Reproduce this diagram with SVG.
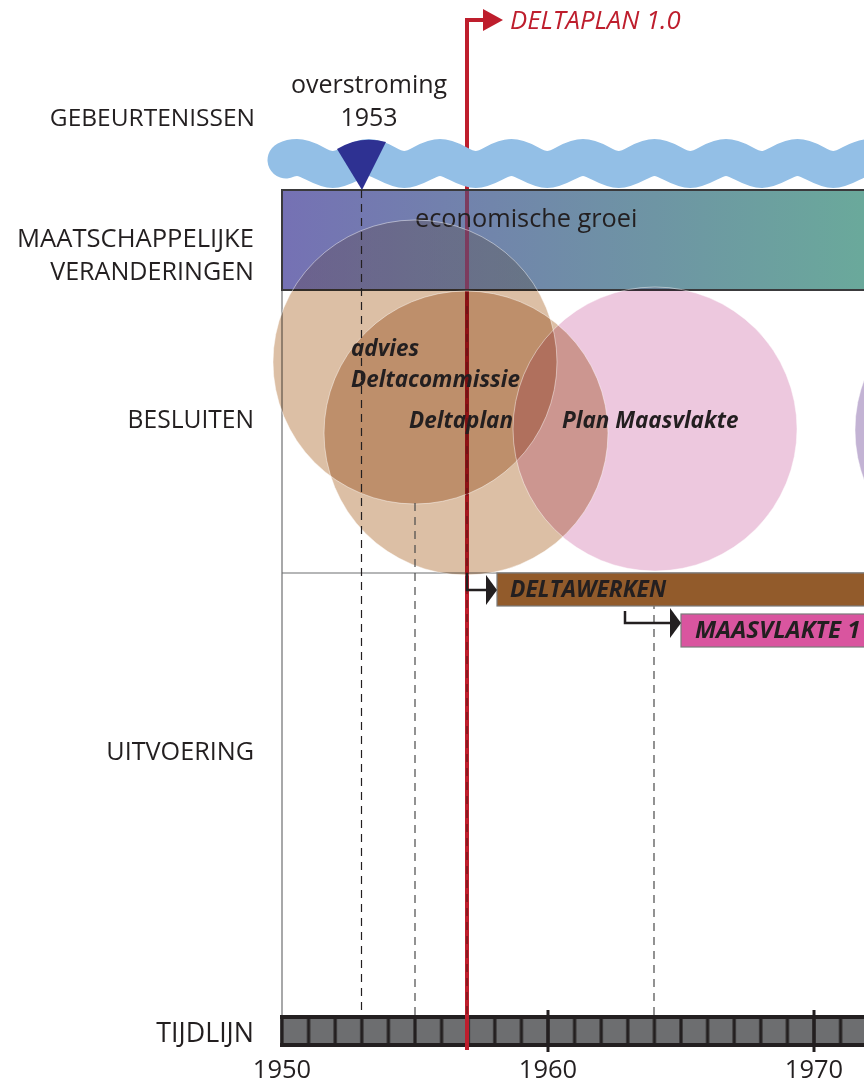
<svg xmlns="http://www.w3.org/2000/svg" width="864" height="1083" viewBox="0 0 864 1083">
<defs>
<linearGradient id="econ" x1="282" y1="0" x2="864" y2="0" gradientUnits="userSpaceOnUse">
<stop offset="0" stop-color="#7571b4"/>
<stop offset="1" stop-color="#6aa99b"/>
</linearGradient>
<pattern id="cells" x="282" y="0" width="26.6" height="1083" patternUnits="userSpaceOnUse">
<rect x="1.6" y="1019" width="23.4" height="24" fill="#6d6e70"/>
</pattern>
<marker id="ahk" viewBox="0 0 11 30" refX="0" refY="15" markerWidth="11" markerHeight="30" markerUnits="userSpaceOnUse" orient="auto">
<path d="M0,0 L11,15 L0,30 Z" fill="#231f20"/>
</marker>
<marker id="ahr" viewBox="0 0 20 22" refX="0" refY="11" markerWidth="20" markerHeight="22" markerUnits="userSpaceOnUse" orient="auto">
<path d="M0,0 L20,11 L0,22 Z" fill="#be1e2d"/>
</marker>
</defs>
<style>
.t{font-family:"Open Sans","Liberation Sans",sans-serif;font-size:25px;fill:#231f20}
.lane{text-anchor:end}
.mid{text-anchor:middle}
.bi{font-weight:bold;font-style:italic;font-size:22.5px}
.bb{font-weight:bold;font-style:italic;font-size:23px}
.circ{mix-blend-mode:multiply;stroke:none}
.ring{fill:none;stroke:#ffffff;stroke-opacity:.45;stroke-width:1}
.dash{stroke:#231f20;stroke-width:1.2;stroke-dasharray:8 6;fill:none}
.grid{stroke:#6d6e70;stroke-width:1.2;fill:none}
.bar{stroke:#7a7a7a;stroke-width:1.2}
</style>
<rect width="864" height="1083" fill="#ffffff"/>

<g id="lanes">
<text class="t lane" x="255" y="126" style="font-size:24.5px">GEBEURTENISSEN</text>
<text class="t lane" x="254" y="247" style="font-size:25.6px">MAATSCHAPPELIJKE</text>
<text class="t lane" x="254" y="280" style="font-size:25.1px">VERANDERINGEN</text>
<text class="t lane" x="254" y="428" style="font-size:24.6px">BESLUITEN</text>
<text class="t lane" x="254" y="760" style="font-size:25.2px">UITVOERING</text>
<text class="t lane" x="254" y="1042" style="font-size:26.8px">TIJDLIJN</text>
</g>

<g id="grid">
<line class="grid" x1="282" y1="290" x2="282" y2="1015"/>
<line class="grid" x1="282" y1="573" x2="864" y2="573"/>
</g>

<g id="deltaplan-line">
<line x1="467" y1="1050" x2="467" y2="20" stroke="#be1e2d" stroke-width="4"/>
<path d="M465,20 H483" stroke="#be1e2d" stroke-width="4" fill="none" marker-end="url(#ahr)"/>
<text class="t" x="510" y="29" style="fill:#be1e2d;font-style:italic;font-size:25.7px">DELTAPLAN 1.0</text>
</g>

<g id="gebeurtenissen">
<path d="M286,160 C290,158 293,157.5 297,157.5 C310,157.5 319.75,169.5 332.75,169.5 S355.5,157.5 368.5,157.5 S391.25,169.5 404.25,169.5 S427,157.5 440,157.5 S462.75,169.5 475.75,169.5 S498.5,157.5 511.5,157.5 S534.25,169.5 547.25,169.5 S570,157.5 583,157.5 S605.75,169.5 618.75,169.5 S641.5,157.5 654.5,157.5 S677.25,169.5 690.25,169.5 S713,157.5 726,157.5 S748.75,169.5 761.75,169.5 S784.5,157.5 797.5,157.5 S820.25,169.5 833.25,169.5 S856,157.5 869,157.5 S891.75,169.5 904.75,169.5" fill="none" stroke="#93bfe6" stroke-width="37" stroke-linecap="round"/>
<path d="M337,149 Q360,135 386,142 L362,190 Z" fill="#2e3192"/>
<text class="t mid" x="369" y="93">overstroming</text>
<text class="t mid" x="369" y="126">1953</text>
</g>

<g id="economische-groei">
<rect x="282" y="190" width="600" height="100" fill="url(#econ)" stroke="#3a3a3c" stroke-width="2"/>
</g>

<g id="besluiten">
<circle class="circ" cx="415" cy="362" r="142" fill="#dcbfa5"/>
<circle class="circ" cx="466" cy="433" r="142" fill="#dcbfa5"/>
<circle class="circ" cx="655" cy="429" r="142" fill="#edc8de"/>
<circle class="circ" cx="997" cy="430" r="142" fill="#c3b3d4"/>
</g>

<g id="economische-groei-overlay">
<rect x="283" y="191" width="600" height="98" fill="url(#econ)" opacity="0.42"/>
<line x1="467" y1="191" x2="467" y2="289" stroke="#7c3c5e" stroke-width="4"/>
<text class="t" x="415" y="227" style="font-size:25.3px">economische groei</text>
</g>

<g id="rings">
<circle class="ring" cx="415" cy="362" r="142"/>
<circle class="ring" cx="466" cy="433" r="142"/>
<circle class="ring" cx="655" cy="429" r="142"/>
<circle class="ring" cx="997" cy="430" r="142"/>
</g>

<g id="dashes">
<line class="dash" x1="361.5" y1="190" x2="361.5" y2="1015"/>
<line class="dash" x1="415" y1="503" x2="415" y2="1015" style="stroke:#4a4a4a"/>
<line class="dash" x1="654" y1="573" x2="654" y2="1015" style="stroke:#4a4a4a"/>
<line class="dash" x1="467" y1="292" x2="467" y2="1015" style="stroke:#5a1515;stroke-width:1"/>
</g>

<g id="besluit-labels">
<text class="t bi" x="351" y="356">advies</text>
<text class="t bi" x="351" y="387">Deltacommissie</text>
<text class="t bi" x="409" y="428">Deltaplan</text>
<text class="t bi" x="562" y="428">Plan Maasvlakte</text>
</g>

<g id="deltawerken">
<rect class="bar" x="497" y="573" width="380" height="33" fill="#925b2b"/>
<text class="t bb" x="510" y="597" style="font-size:22.8px">DELTAWERKEN</text>
</g>

<g id="maasvlakte-1">
<rect class="bar" x="681" y="614" width="200" height="33" fill="#d9559f"/>
<text class="t bb" x="695" y="638" style="font-size:24px">MAASVLAKTE 1</text>
</g>

<g id="connectors">
<path d="M467,573 V590 H486" fill="none" stroke="#231f20" stroke-width="2.5" marker-end="url(#ahk)"/>
<path d="M625,611 V623 H670" fill="none" stroke="#231f20" stroke-width="2.5" marker-end="url(#ahk)"/>
</g>

<g id="tijdlijn">
<rect x="280" y="1015" width="600" height="32" fill="#231f20"/>
<rect x="280" y="1015" width="600" height="32" fill="url(#cells)"/>
<line x1="548" y1="1010" x2="548" y2="1052" stroke="#231f20" stroke-width="3"/>
<line x1="814" y1="1010" x2="814" y2="1052" stroke="#231f20" stroke-width="3"/>
<line x1="467" y1="1015" x2="467" y2="1050" stroke="#be1e2d" stroke-width="4"/>
<text class="t mid" x="282" y="1078" style="font-size:25.5px">1950</text>
<text class="t mid" x="548" y="1078" style="font-size:25.5px">1960</text>
<text class="t mid" x="814" y="1078" style="font-size:25.5px">1970</text>
</g>
</svg>
